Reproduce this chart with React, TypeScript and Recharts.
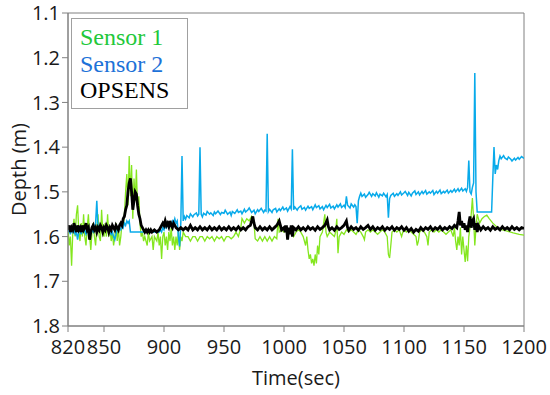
import { LineChart, Line, XAxis, YAxis, ReferenceArea } from "recharts";

// [time (sec), depth (m)] samples
const sensor1: [number, number][] = [
  [820, 1.58], [821, 1.62], [822, 1.6], [823, 1.665], [824, 1.59], [825, 1.56], [826, 1.6], [827, 1.55], [828, 1.53], [829, 1.59],
  [830, 1.61], [831, 1.57], [832, 1.6], [833, 1.55], [834, 1.6], [835, 1.62], [836, 1.58], [837, 1.55], [838, 1.6], [839, 1.63],
  [840, 1.59], [841, 1.57], [842, 1.6], [843, 1.62], [844, 1.58], [845, 1.55], [846, 1.6], [847, 1.61], [848, 1.54], [849, 1.59],
  [850, 1.6], [851, 1.57], [852, 1.6], [853, 1.55], [854, 1.6], [855, 1.58], [856, 1.61], [857, 1.59], [858, 1.62], [859, 1.6],
  [860, 1.57], [861, 1.61], [862, 1.58], [863, 1.62], [864, 1.6], [865, 1.57], [866, 1.58], [867, 1.55], [868, 1.5], [869, 1.46],
  [870, 1.53], [871, 1.42], [872, 1.51], [873, 1.44], [874, 1.56], [875, 1.47], [876, 1.52], [877, 1.45], [878, 1.54], [879, 1.51],
  [880, 1.57], [881, 1.6], [882, 1.59], [883, 1.61], [884, 1.6], [886, 1.62], [887, 1.59], [888, 1.61], [890, 1.6], [891, 1.63],
  [892, 1.6], [894, 1.61], [895, 1.59], [896, 1.62], [897, 1.6], [898, 1.65], [899, 1.6], [900, 1.59], [901, 1.62], [902, 1.6],
  [903, 1.63], [904, 1.59], [905, 1.61], [906, 1.58], [907, 1.62], [908, 1.6], [909, 1.63], [910, 1.6], [911, 1.62], [912, 1.59],
  [913, 1.63], [914, 1.6], [915, 1.61], [916, 1.59], [918, 1.6], [920, 1.6], [922, 1.61], [924, 1.6], [926, 1.6], [928, 1.61],
  [930, 1.6], [932, 1.6], [934, 1.61], [936, 1.6], [938, 1.605], [940, 1.6], [942, 1.61], [944, 1.6], [946, 1.605], [948, 1.6],
  [950, 1.61], [952, 1.6], [954, 1.6], [956, 1.605], [958, 1.6], [960, 1.59], [962, 1.6], [964, 1.58], [965, 1.56], [967, 1.57],
  [969, 1.56], [971, 1.565], [973, 1.555], [975, 1.57], [976, 1.605], [978, 1.61], [980, 1.6], [982, 1.61], [984, 1.6], [986, 1.61],
  [988, 1.6], [990, 1.61], [992, 1.6], [994, 1.605], [995, 1.56], [996, 1.59], [998, 1.585], [1000, 1.59], [1002, 1.58], [1004, 1.59],
  [1006, 1.585], [1008, 1.6], [1010, 1.59], [1012, 1.585], [1014, 1.59], [1016, 1.6], [1018, 1.62], [1019, 1.6], [1020, 1.63], [1021, 1.65],
  [1022, 1.64], [1023, 1.66], [1024, 1.65], [1025, 1.665], [1026, 1.64], [1027, 1.66], [1028, 1.62], [1029, 1.64], [1030, 1.6], [1032, 1.59],
  [1034, 1.55], [1035, 1.59], [1036, 1.6], [1038, 1.59], [1040, 1.595], [1042, 1.6], [1043, 1.59], [1044, 1.56], [1045, 1.637], [1046, 1.6],
  [1048, 1.59], [1050, 1.595], [1052, 1.585], [1054, 1.59], [1056, 1.585], [1058, 1.59], [1060, 1.595], [1062, 1.585], [1064, 1.59], [1066, 1.6],
  [1067, 1.607], [1068, 1.59], [1070, 1.585], [1072, 1.59], [1074, 1.585], [1076, 1.59], [1078, 1.595], [1080, 1.59], [1082, 1.585], [1084, 1.59],
  [1086, 1.6], [1087, 1.64], [1088, 1.648], [1089, 1.62], [1090, 1.59], [1092, 1.585], [1094, 1.59], [1096, 1.585], [1098, 1.6], [1099, 1.59],
  [1100, 1.585], [1102, 1.59], [1104, 1.585], [1106, 1.59], [1108, 1.595], [1110, 1.6], [1111, 1.62], [1112, 1.61], [1113, 1.59], [1115, 1.585],
  [1117, 1.59], [1119, 1.6], [1120, 1.62], [1121, 1.59], [1123, 1.585], [1125, 1.59], [1127, 1.585], [1129, 1.59], [1131, 1.585], [1133, 1.59],
  [1135, 1.595], [1137, 1.59], [1139, 1.585], [1141, 1.6], [1142, 1.58], [1143, 1.61], [1144, 1.63], [1145, 1.6], [1146, 1.62], [1147, 1.58],
  [1148, 1.64], [1149, 1.6], [1150, 1.63], [1151, 1.657], [1152, 1.62], [1153, 1.655], [1154, 1.6], [1155, 1.58], [1156, 1.55], [1157, 1.514],
  [1158, 1.56], [1159, 1.62], [1160, 1.58], [1161, 1.55], [1162, 1.56], [1163, 1.57], [1165, 1.56], [1167, 1.555], [1169, 1.552], [1171, 1.56],
  [1174, 1.57], [1176, 1.575], [1178, 1.58], [1182, 1.585], [1186, 1.588], [1191, 1.592], [1196, 1.595], [1200, 1.597],
];

const sensor2: [number, number][] = [
  [820, 1.59], [821, 1.585], [822, 1.595], [823, 1.58], [824, 1.59], [825, 1.585], [826, 1.595], [827, 1.59], [828, 1.607], [829, 1.59],
  [830, 1.585], [831, 1.595], [832, 1.58], [833, 1.59], [834, 1.585], [835, 1.595], [836, 1.59], [837, 1.58], [838, 1.59], [839, 1.595],
  [840, 1.585], [841, 1.59], [842, 1.58], [843, 1.57], [844, 1.52], [845, 1.58], [846, 1.585], [848, 1.58], [850, 1.585], [852, 1.58],
  [854, 1.585], [855, 1.59], [856, 1.595], [857, 1.59], [858, 1.6], [859, 1.607], [860, 1.595], [861, 1.585], [862, 1.58], [864, 1.585],
  [865, 1.575], [866, 1.58], [867, 1.57], [868, 1.575], [869, 1.565], [870, 1.57], [871, 1.565], [872, 1.59], [896, 1.59], [897, 1.585],
  [898, 1.59], [899, 1.58], [900, 1.585], [901, 1.575], [902, 1.58], [903, 1.57], [904, 1.578], [905, 1.57], [906, 1.575], [907, 1.565],
  [908, 1.57], [909, 1.56], [910, 1.57], [911, 1.565], [912, 1.6], [913, 1.622], [914, 1.57], [915, 1.42], [916, 1.565], [917, 1.555],
  [918, 1.561], [919, 1.553], [921, 1.558], [922, 1.549], [924, 1.556], [925, 1.551], [927, 1.547], [928, 1.554], [929, 1.55], [930, 1.4],
  [931, 1.55], [932, 1.556], [933, 1.548], [935, 1.552], [936, 1.544], [938, 1.55], [939, 1.547], [941, 1.553], [942, 1.545], [943, 1.549],
  [945, 1.543], [947, 1.551], [948, 1.546], [950, 1.548], [951, 1.541], [953, 1.55], [955, 1.545], [956, 1.553], [957, 1.544], [959, 1.548],
  [961, 1.54], [962, 1.546], [964, 1.543], [965, 1.549], [967, 1.539], [968, 1.545], [970, 1.54], [971, 1.536], [973, 1.546], [975, 1.541],
  [976, 1.549], [978, 1.54], [979, 1.544], [981, 1.537], [983, 1.546], [984, 1.541], [985, 1.543], [986, 1.37], [987, 1.544], [988, 1.539],
  [990, 1.546], [991, 1.54], [993, 1.537], [994, 1.545], [996, 1.538], [997, 1.542], [999, 1.534], [1000, 1.54], [1002, 1.536], [1003, 1.543],
  [1005, 1.533], [1006, 1.538], [1007, 1.405], [1008, 1.54], [1009, 1.534], [1011, 1.541], [1012, 1.536], [1014, 1.531], [1015, 1.539], [1017, 1.535],
  [1018, 1.541], [1020, 1.532], [1021, 1.537], [1023, 1.533], [1024, 1.54], [1026, 1.529], [1027, 1.535], [1029, 1.531], [1030, 1.538], [1032, 1.533],
  [1033, 1.54], [1035, 1.53], [1036, 1.535], [1038, 1.528], [1039, 1.536], [1041, 1.532], [1042, 1.538], [1044, 1.529], [1045, 1.534], [1047, 1.527],
  [1048, 1.535], [1050, 1.53], [1051, 1.535], [1052, 1.51], [1053, 1.53], [1055, 1.536], [1056, 1.527], [1058, 1.534], [1059, 1.529], [1060, 1.533],
  [1061, 1.57], [1062, 1.52], [1063, 1.51], [1064, 1.503], [1065, 1.51], [1067, 1.505], [1068, 1.512], [1070, 1.506], [1071, 1.501], [1073, 1.51],
  [1074, 1.504], [1076, 1.509], [1077, 1.502], [1079, 1.512], [1080, 1.505], [1082, 1.509], [1083, 1.503], [1085, 1.511], [1086, 1.506], [1087, 1.558],
  [1088, 1.515], [1089, 1.508], [1091, 1.503], [1092, 1.51], [1094, 1.504], [1095, 1.508], [1097, 1.5], [1098, 1.507], [1100, 1.502], [1101, 1.499],
  [1103, 1.508], [1104, 1.501], [1106, 1.509], [1107, 1.503], [1109, 1.498], [1110, 1.506], [1112, 1.5], [1113, 1.507], [1115, 1.499], [1116, 1.504],
  [1118, 1.497], [1119, 1.505], [1121, 1.5], [1122, 1.503], [1124, 1.497], [1125, 1.506], [1127, 1.499], [1128, 1.503], [1130, 1.496], [1131, 1.504],
  [1133, 1.499], [1134, 1.502], [1136, 1.496], [1137, 1.503], [1139, 1.497], [1140, 1.501], [1142, 1.494], [1143, 1.5], [1145, 1.493], [1146, 1.499],
  [1148, 1.492], [1149, 1.498], [1151, 1.493], [1152, 1.499], [1153, 1.49], [1154, 1.43], [1155, 1.5], [1156, 1.505], [1157, 1.49], [1158, 1.48],
  [1159, 1.234], [1160, 1.5], [1161, 1.545], [1173, 1.545], [1174, 1.47], [1175, 1.4], [1176, 1.46], [1177, 1.44], [1178, 1.45], [1179, 1.43],
  [1180, 1.42], [1181, 1.426], [1183, 1.419], [1184, 1.424], [1186, 1.428], [1187, 1.422], [1189, 1.427], [1190, 1.431], [1192, 1.425], [1193, 1.429],
  [1195, 1.423], [1196, 1.427], [1198, 1.421], [1200, 1.425],
];

const opsens: [number, number][] = [
  [820, 1.585], [821, 1.575], [822, 1.59], [823, 1.58], [824, 1.585], [825, 1.57], [826, 1.58], [827, 1.59], [828, 1.575], [829, 1.585],
  [830, 1.58], [831, 1.59], [832, 1.575], [833, 1.585], [834, 1.58], [835, 1.57], [836, 1.585], [837, 1.58], [838, 1.607], [839, 1.59],
  [840, 1.58], [841, 1.575], [842, 1.585], [843, 1.58], [844, 1.59], [845, 1.58], [846, 1.585], [847, 1.575], [848, 1.58], [849, 1.59],
  [850, 1.58], [851, 1.585], [852, 1.575], [853, 1.58], [854, 1.59], [855, 1.58], [856, 1.585], [857, 1.575], [858, 1.58], [859, 1.585],
  [860, 1.575], [861, 1.58], [862, 1.585], [863, 1.575], [864, 1.57], [865, 1.575], [866, 1.56], [867, 1.555], [868, 1.54], [869, 1.53],
  [870, 1.5], [871, 1.48], [872, 1.47], [873, 1.5], [874, 1.54], [875, 1.52], [876, 1.5], [877, 1.505], [878, 1.53], [879, 1.55],
  [880, 1.56], [881, 1.575], [882, 1.58], [883, 1.585], [884, 1.59], [885, 1.585], [886, 1.59], [887, 1.585], [888, 1.59], [889, 1.585],
  [890, 1.59], [892, 1.585], [894, 1.59], [896, 1.585], [897, 1.58], [898, 1.575], [899, 1.57], [900, 1.575], [901, 1.565], [902, 1.575],
  [903, 1.57], [904, 1.578], [905, 1.565], [906, 1.575], [907, 1.58], [908, 1.57], [909, 1.575], [910, 1.58], [912, 1.585], [914, 1.58],
  [916, 1.585], [918, 1.58], [920, 1.585], [922, 1.575], [924, 1.585], [926, 1.58], [928, 1.585], [930, 1.578], [932, 1.585], [934, 1.58],
  [936, 1.585], [938, 1.578], [940, 1.585], [942, 1.58], [944, 1.585], [946, 1.578], [948, 1.585], [950, 1.58], [952, 1.585], [954, 1.578],
  [956, 1.585], [958, 1.58], [960, 1.585], [962, 1.578], [964, 1.585], [966, 1.58], [968, 1.585], [970, 1.578], [972, 1.575], [974, 1.555],
  [975, 1.57], [976, 1.58], [978, 1.585], [980, 1.578], [982, 1.585], [984, 1.58], [986, 1.585], [988, 1.578], [990, 1.585], [992, 1.58],
  [994, 1.575], [996, 1.565], [997, 1.575], [998, 1.585], [1000, 1.58], [1001, 1.59], [1002, 1.575], [1003, 1.607], [1004, 1.58], [1005, 1.595],
  [1006, 1.575], [1007, 1.6], [1008, 1.58], [1010, 1.585], [1012, 1.578], [1014, 1.585], [1016, 1.58], [1018, 1.586], [1020, 1.578], [1022, 1.584],
  [1024, 1.58], [1026, 1.586], [1028, 1.578], [1030, 1.584], [1032, 1.58], [1034, 1.575], [1036, 1.563], [1037, 1.578], [1038, 1.585], [1040, 1.58],
  [1042, 1.586], [1044, 1.578], [1046, 1.584], [1048, 1.58], [1050, 1.575], [1052, 1.565], [1053, 1.58], [1054, 1.586], [1056, 1.578], [1058, 1.584],
  [1060, 1.58], [1062, 1.586], [1064, 1.578], [1066, 1.584], [1068, 1.58], [1070, 1.575], [1072, 1.584], [1074, 1.578], [1076, 1.586], [1078, 1.58],
  [1080, 1.584], [1082, 1.578], [1084, 1.586], [1086, 1.58], [1088, 1.584], [1090, 1.578], [1092, 1.586], [1094, 1.58], [1096, 1.584], [1098, 1.578],
  [1100, 1.586], [1102, 1.58], [1104, 1.588], [1106, 1.582], [1108, 1.59], [1110, 1.584], [1112, 1.588], [1114, 1.58], [1116, 1.586], [1118, 1.58],
  [1120, 1.584], [1122, 1.578], [1124, 1.586], [1126, 1.58], [1128, 1.584], [1130, 1.578], [1132, 1.585], [1134, 1.58], [1136, 1.584], [1138, 1.578],
  [1140, 1.582], [1142, 1.575], [1144, 1.58], [1145, 1.565], [1146, 1.545], [1147, 1.575], [1148, 1.565], [1149, 1.58], [1150, 1.57], [1151, 1.585],
  [1152, 1.575], [1153, 1.59], [1154, 1.57], [1155, 1.555], [1156, 1.58], [1157, 1.565], [1158, 1.56], [1159, 1.585], [1160, 1.57], [1161, 1.59],
  [1162, 1.575], [1164, 1.585], [1166, 1.578], [1168, 1.584], [1170, 1.58], [1172, 1.586], [1174, 1.578], [1176, 1.584], [1178, 1.58], [1180, 1.585],
  [1182, 1.578], [1184, 1.584], [1186, 1.58], [1188, 1.585], [1190, 1.578], [1192, 1.584], [1194, 1.58], [1196, 1.585], [1198, 1.58], [1200, 1.582],
];

const xTicks = [820, 850, 900, 950, 1000, 1050, 1100, 1150, 1200];
const yTicks = [1.1, 1.2, 1.3, 1.4, 1.5, 1.6, 1.7, 1.8];

const legendItems = [
  { name: "Sensor 1", color: "#22c83a" },
  { name: "Sensor 2", color: "#1d72d8" },
  { name: "OPSENS", color: "#000000" },
];

const toRows = (pts: [number, number][]) => pts.map(([t, d]) => ({ t, d }));

const tickStyle = { fontSize: 20, fill: "#1a1a1a", fontFamily: "Open Sans" };

export default function App() {
  return (
    <div style={{ position: "absolute", left: 0, top: 0, width: 550, height: 395, background: "#fff" }}>
      <LineChart width={550} height={395} margin={{ top: 13, right: 26, left: 0, bottom: 0 }}>
        <XAxis
          dataKey="t"
          type="number"
          domain={[820, 1200]}
          ticks={xTicks}
          allowDataOverflow
          stroke="#808080"
          tickSize={6}
          tickMargin={8}
          tick={tickStyle}
          height={69}
          label={{ value: "Time(sec)", position: "insideBottom", offset: 10, fontSize: 20, fill: "#1a1a1a", fontFamily: "Open Sans" }}
        />
        <YAxis
          type="number"
          reversed
          domain={[1.1, 1.8]}
          ticks={yTicks}
          allowDataOverflow
          width={68}
          stroke="#808080"
          tickSize={6}
          tickMargin={2}
          tick={tickStyle}
          tickFormatter={(v: number) => v.toFixed(1)}
          label={{
            value: "Depth (m)",
            angle: -90,
            position: "insideLeft",
            offset: 19,
            fontSize: 20,
            fill: "#1a1a1a",
            fontFamily: "Open Sans",
            style: { textAnchor: "middle" },
          }}
        />
        <ReferenceArea x1={820} x2={1200} y1={1.1} y2={1.8} fill="none" stroke="#808080" strokeWidth={1} />
        <Line data={toRows(sensor1)} dataKey="d" type="linear" stroke="#84e61e" strokeWidth={1.3} dot={false} isAnimationActive={false} />
        <Line data={toRows(sensor2)} dataKey="d" type="linear" stroke="#08aaea" strokeWidth={1.5} dot={false} isAnimationActive={false} />
        <Line data={toRows(opsens)} dataKey="d" type="linear" stroke="#000000" strokeWidth={2.8} dot={false} isAnimationActive={false} />
      </LineChart>
      <div
        style={{
          position: "absolute",
          left: 71,
          top: 18,
          width: 117,
          height: 91,
          boxSizing: "border-box",
          border: "1px solid #a0a0a0",
          background: "#fff",
          padding: "5px 0 0 8px",
          overflow: "hidden",
          fontFamily: "'Liberation Serif', 'Times New Roman', serif",
          fontSize: 24,
          lineHeight: "26.5px",
        }}
      >
        {legendItems.map((it) => (
          <div key={it.name} style={{ color: it.color, whiteSpace: "nowrap" }}>
            {it.name}
          </div>
        ))}
      </div>
    </div>
  );
}
